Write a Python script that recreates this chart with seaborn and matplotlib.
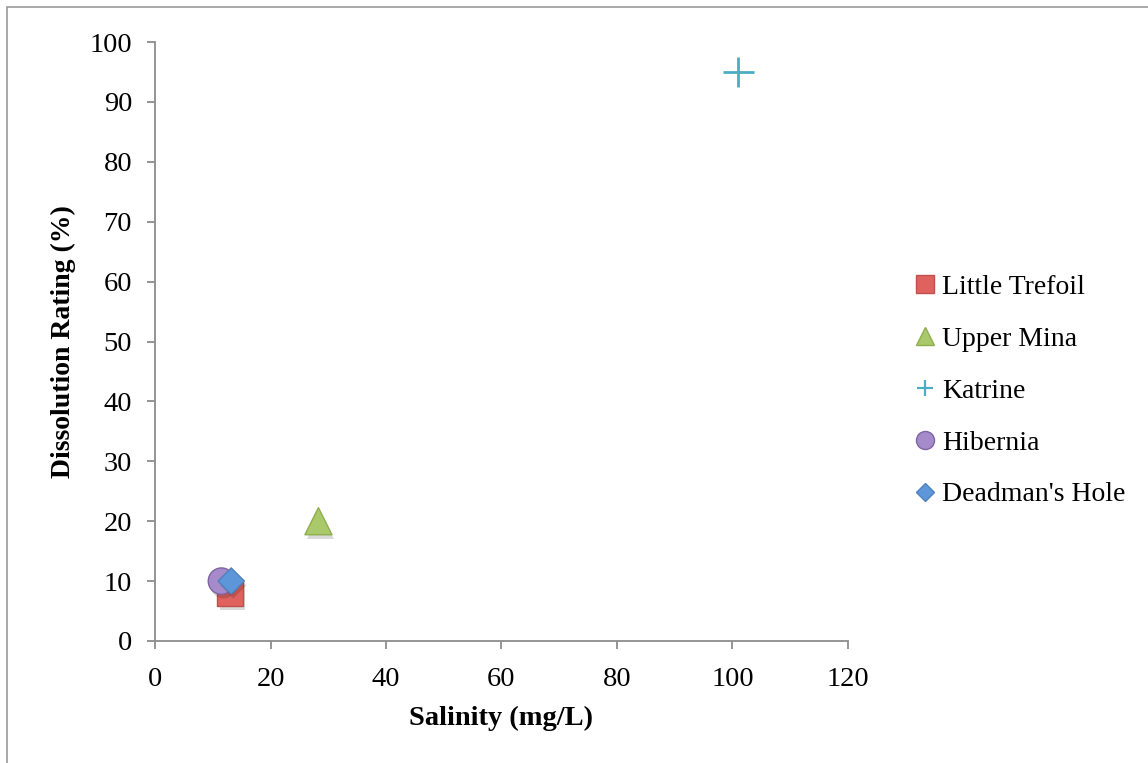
import matplotlib
matplotlib.use("Agg")
import matplotlib.pyplot as plt
import matplotlib.patheffects as pe
from matplotlib.lines import Line2D
from matplotlib.patches import Rectangle
import seaborn as sns
import pandas as pd

sites = ["Little Trefoil", "Upper Mina", "Katrine", "Hibernia", "Deadman's Hole"]
salinity = [13, 28.3, 101, 11.5, 13.2]
dissolution = [8, 20, 95, 10, 10]
x_ticks = [0, 20, 40, 60, 80, 100, 120]
y_ticks = [0, 10, 20, 30, 40, 50, 60, 70, 80, 90, 100]

markers = ["s", "^", "+", "o", "D"]
faces = ["#E0625E", "#A9C96A", "#4BACC6", "#A68BCB", "#5D97DA"]
edges = ["#C0504D", "#8EAE4E", "#4BACC6", "#8064A2", "#4F81BD"]
sizes = [330, 380, 490, 360, 180]
lsizes = [13, 13, 12, 13, 9.2]

sns.set_theme(style="white")
plt.rcParams["font.family"] = ["Liberation Serif", "DejaVu Serif"]
plt.rcParams["text.color"] = "black"

df = pd.DataFrame({"site": sites, "salinity": salinity, "dissolution": dissolution})

fig = plt.figure(figsize=(11.48, 7.63), dpi=100)
ax = fig.add_axes([155 / 1148, 1 - 641 / 763, (848 - 155) / 1148, (641 - 42) / 763])

shadow = [pe.SimplePatchShadow(offset=(1.5, -3), shadow_rgbFace="#000000", alpha=0.15), pe.Normal()]
for i, row in df.iterrows():
    sub = df.iloc[[i]]
    if markers[i] == "+":
        sns.scatterplot(data=sub, x="salinity", y="dissolution", marker="+", s=sizes[i],
                        color=faces[i], linewidth=2.0, ax=ax, legend=False, zorder=3 + i)
    else:
        sns.scatterplot(data=sub, x="salinity", y="dissolution", marker=markers[i], s=sizes[i],
                        color=faces[i], edgecolor=edges[i], linewidth=1.0, ax=ax, legend=False,
                        zorder=3 + i)
for coll in ax.collections:
    coll.set_path_effects(shadow)

ax.set_xlim(0, 120)
ax.set_ylim(0, 100)
ax.set_xticks(x_ticks)
ax.set_yticks(y_ticks)
ax.set_xticklabels([str(t) for t in x_ticks])
ax.set_yticklabels([str(t) for t in y_ticks])
ax.tick_params(axis="both", which="major", direction="out", length=5.5, width=1.3,
               color="#8c8c8c", labelsize=20.5, labelcolor="black")
ax.tick_params(axis="x", bottom=True, pad=13)
ax.tick_params(axis="y", left=True, pad=11)
for s in ["top", "right"]:
    ax.spines[s].set_visible(False)
for s in ["left", "bottom"]:
    ax.spines[s].set_color("#8c8c8c")
    ax.spines[s].set_linewidth(1.3)
ax.grid(False)

ax.set_xlabel("Salinity (mg/L)", fontsize=20.5, fontweight="bold", color="black")
ax.set_ylabel("Dissolution Rating (%)", fontsize=20, fontweight="bold", color="black")
ax.xaxis.label.set_va("center")
ax.yaxis.label.set_va("center")
ax.xaxis.set_label_coords(0.5, (641 - 718) / 599)
ax.yaxis.set_label_coords((63 - 155) / 693, 0.5)

handles = []
for i in range(len(sites)):
    if markers[i] == "+":
        h = Line2D([], [], linestyle="none", marker="+", markersize=lsizes[i],
                   markeredgecolor=faces[i], markeredgewidth=1.6)
    else:
        h = Line2D([], [], linestyle="none", marker=markers[i], markersize=lsizes[i],
                   markerfacecolor=faces[i], markeredgecolor=edges[i], markeredgewidth=1)
    handles.append(h)
leg = fig.legend(handles, sites, loc="center left", bbox_to_anchor=(914 / 1148, 1 - 391 / 763),
                 frameon=False, fontsize=20, handlelength=0.8, handletextpad=0.2,
                 labelspacing=0.95, borderaxespad=0, borderpad=0)
for t in leg.get_texts():
    t.set_color("black")

fig.patches.append(Rectangle((7 / 1148, -0.1), 1.2, (763 - 7) / 763 + 0.1, transform=fig.transFigure,
                             fill=False, edgecolor="#9a9a9a", linewidth=1.2, zorder=0))

fig.savefig("out.png", dpi=100)
